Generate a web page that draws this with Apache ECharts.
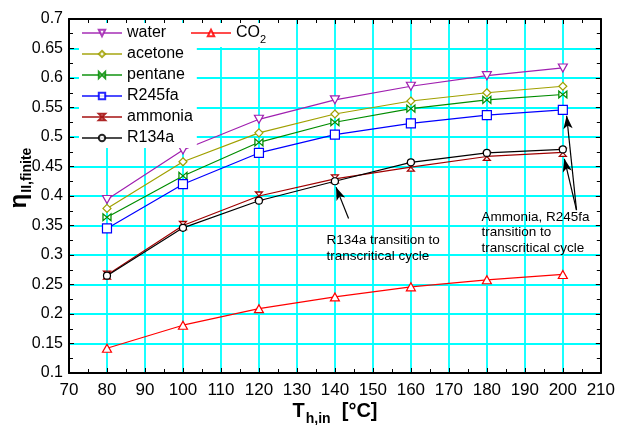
<!DOCTYPE html>
<html>
<head>
<meta charset="utf-8">
<script src="https://cdn.jsdelivr.net/npm/echarts@6/dist/echarts.min.js"></script>
<style>
  html, body { margin: 0; padding: 0; background: #fff; }
  #chart { width: 618px; height: 425px; }
</style>
</head>
<body>
<div id="chart"></div>
<script>
// Heat-source inlet temperature [°C]
const temps = [80, 100, 120, 140, 160, 180, 200];

// Second-law efficiency per working fluid
const water   = [0.394, 0.478, 0.530, 0.563, 0.586, 0.604, 0.617];
const acetone = [0.379, 0.458, 0.507, 0.539, 0.561, 0.575, 0.586];
const pentane = [0.364, 0.434, 0.491, 0.525, 0.548, 0.563, 0.572];
const r245fa  = [0.345, 0.420, 0.473, 0.504, 0.523, 0.537, 0.546];
const ammonia = [0.266, 0.350, 0.400, 0.429, 0.449, 0.467, 0.474];
const r134a   = [0.265, 0.346, 0.392, 0.425, 0.457, 0.473, 0.479];
const co2     = [0.142, 0.181, 0.209, 0.229, 0.246, 0.258, 0.267];

const FONT = '"Liberation Sans", Arial, sans-serif';

const chart = echarts.init(document.getElementById('chart'), null, { renderer: 'canvas' });

const SYM = {
  triDown: 'path://M0,0 L10,0 L5,9 Z',
  triUp: 'path://M5,0 L10,9 L0,9 Z',
  bowtie: 'path://M0,0 L0,10 L10,0 L10,10 Z',
  hourglass: 'path://M0,0 L10,0 L0,10 L10,10 Z'
};

function pairs(ys) { return temps.map((t, i) => [t, ys[i]]); }

function lineSeries(name, ys, color, symbol, size, extra) {
  return Object.assign({
    name: name,
    type: 'line',
    data: pairs(ys),
    symbol: symbol,
    symbolSize: size,
    showAllSymbol: true,
    lineStyle: { color: color, width: 1.2 },
    itemStyle: { color: '#fff', borderColor: color, borderWidth: 1.2 },
    emphasis: { disabled: true },
    animation: false,
    z: 3
  }, extra || {});
}

const legendBase = {
  orient: 'vertical',
  itemWidth: 40,
  itemHeight: 8,
  itemGap: 5,
  padding: [2, 4, 2, 2],
  backgroundColor: '#fff',
  selectedMode: false,
  textStyle: { fontFamily: FONT, fontSize: 16, color: '#000', lineHeight: 16,
    rich: { s: { fontFamily: FONT, fontSize: 11, verticalAlign: 'bottom', lineHeight: 10, padding: [0, 0, -4, 0] } } },
  lineStyle: { opacity: 0.7 },
  itemStyle: { opacity: 0.85 }
};

const option = {
  backgroundColor: '#fff',
  animation: false,
  grid: { left: 69, right: 17, top: 19, bottom: 52, show: false },
  legend: [
    Object.assign({}, legendBase, {
      left: 79, top: 23,
      data: ['water', 'acetone', 'pentane', 'R245fa', 'ammonia', 'R134a']
    }),
    Object.assign({}, legendBase, {
      left: 188, top: 23,
      data: ['CO2'],
      formatter: () => 'CO{s|2}'
    })
  ],
  xAxis: [
    {
      type: 'value', min: 70, max: 210, interval: 10,
      axisLine: { show: true, onZero: false, lineStyle: { color: '#000', width: 2 } },
      axisTick: { show: true, inside: true, length: 5, lineStyle: { color: '#000', width: 1 } },
      minorTick: { show: true, splitNumber: 2, length: 4, lineStyle: { color: '#000', width: 1 } },
      splitLine: { show: true, lineStyle: { color: '#00ffff', width: 1.8 } },
      axisLabel: { color: '#000', fontFamily: FONT, fontSize: 17, margin: 9 }
    },
    {
      type: 'value', min: 70, max: 210, interval: 10, position: 'top',
      axisLine: { show: true, onZero: false, lineStyle: { color: '#000', width: 2 } },
      axisTick: { show: true, inside: true, length: 5, lineStyle: { color: '#000', width: 1 } },
      minorTick: { show: true, splitNumber: 2, length: 4, lineStyle: { color: '#000', width: 1 } },
      splitLine: { show: false },
      axisLabel: { show: false }
    }
  ],
  yAxis: [
    {
      type: 'value', min: 0.1, max: 0.7, interval: 0.05,
      axisLine: { show: true, onZero: false, lineStyle: { color: '#000', width: 2 } },
      axisTick: { show: true, inside: true, length: 5, lineStyle: { color: '#000', width: 1 } },
      minorTick: { show: true, splitNumber: 2, length: 4, lineStyle: { color: '#000', width: 1 } },
      splitLine: { show: true, lineStyle: { color: '#00ffff', width: 1.8 } },
      axisLabel: { color: '#000', fontFamily: FONT, fontSize: 16, margin: 6,
        formatter: v => String(+v.toFixed(2)) }
    },
    {
      type: 'value', min: 0.1, max: 0.7, interval: 0.05, position: 'right',
      axisLine: { show: true, onZero: false, lineStyle: { color: '#000', width: 2 } },
      axisTick: { show: true, inside: true, length: 5, lineStyle: { color: '#000', width: 1 } },
      minorTick: { show: true, splitNumber: 2, length: 4, lineStyle: { color: '#000', width: 1 } },
      splitLine: { show: false },
      axisLabel: { show: false }
    }
  ],
  series: [
    lineSeries('water', water, '#a020b0', SYM.triDown, [9, 8]),
    lineSeries('acetone', acetone, '#a0a000', 'diamond', [8, 8]),
    lineSeries('pentane', pentane, '#008c00', SYM.bowtie, [8, 7]),
    lineSeries('R245fa', r245fa, '#0000ff', 'rect', [9, 9]),
    lineSeries('ammonia', ammonia, '#a00000', SYM.hourglass, [7, 8]),
    lineSeries('R134a', r134a, '#000000', 'circle', [7, 7]),
    lineSeries('CO2', co2, '#ff0000', SYM.triUp, [9, 8], {
      markLine: {
        silent: true,
        symbol: ['none', 'arrow'],
        symbolSize: [7, 13],
        label: { show: false },
        lineStyle: { color: '#000', width: 1.2, type: 'solid' },
        data: [
          [{ coord: [143.6, 0.362] }, { coord: [140.3, 0.415] }],
          [{ coord: [203.6, 0.376] }, { coord: [200.4, 0.463] }],
          [{ coord: [203.6, 0.376] }, { coord: [201.0, 0.536] }]
        ]
      }
    })
  ]
};

chart.setOption(option);

// Annotation texts anchored in data coordinates (top-left corner of each block)
const p1 = chart.convertToPixel({ xAxisIndex: 0, yAxisIndex: 0 }, [137.8, 0.339]);
const p2 = chart.convertToPixel({ xAxisIndex: 0, yAxisIndex: 0 }, [178.6, 0.3775]);

chart.setOption({
  graphic: [
    {
      type: 'text', left: p1[0], top: p1[1], silent: true,
      style: { text: 'R134a transition to\ntranscritical cycle', fontFamily: FONT, fontSize: 13.5,
        lineHeight: 16.5, fill: '#000' }
    },
    {
      type: 'text', left: p2[0], top: p2[1], silent: true,
      style: { text: 'Ammonia, R245fa\ntransition to\ntranscritical cycle', fontFamily: FONT, fontSize: 13.5,
        lineHeight: 15.5, fill: '#000' }
    },
    {
      // x-axis title: T_h,in [°C]
      type: 'text', x: 335, y: 410, silent: true,
      style: {
        text: '{T|T}{sub|h,in}{u|  [°C]}',
        align: 'center', verticalAlign: 'middle',
        rich: {
          T: { fontFamily: FONT, fontSize: 20, fontWeight: 'bold', fill: '#000', lineHeight: 22, verticalAlign: 'bottom' },
          sub: { fontFamily: FONT, fontSize: 14, fontWeight: 'bold', fill: '#000', lineHeight: 14, verticalAlign: 'bottom', padding: [0, 0, -5, 1] },
          u: { fontFamily: FONT, fontSize: 20, fontWeight: 'bold', fill: '#000', lineHeight: 22, verticalAlign: 'bottom' }
        }
      }
    },
    {
      // y-axis title: η_II,finite
      type: 'text', x: 19, y: 178, rotation: Math.PI / 2, silent: true,
      style: {
        text: '{e|η}{sub|II,finite}',
        align: 'center', verticalAlign: 'middle',
        rich: {
          e: { fontFamily: FONT, fontSize: 24, fontWeight: 'bold', fill: '#000', lineHeight: 24, verticalAlign: 'bottom' },
          sub: { fontFamily: FONT, fontSize: 14, fontWeight: 'bold', fill: '#000', lineHeight: 14, verticalAlign: 'bottom', padding: [0, 0, -3, 1] }
        }
      }
    }
  ]
});
</script>
</body>
</html>
